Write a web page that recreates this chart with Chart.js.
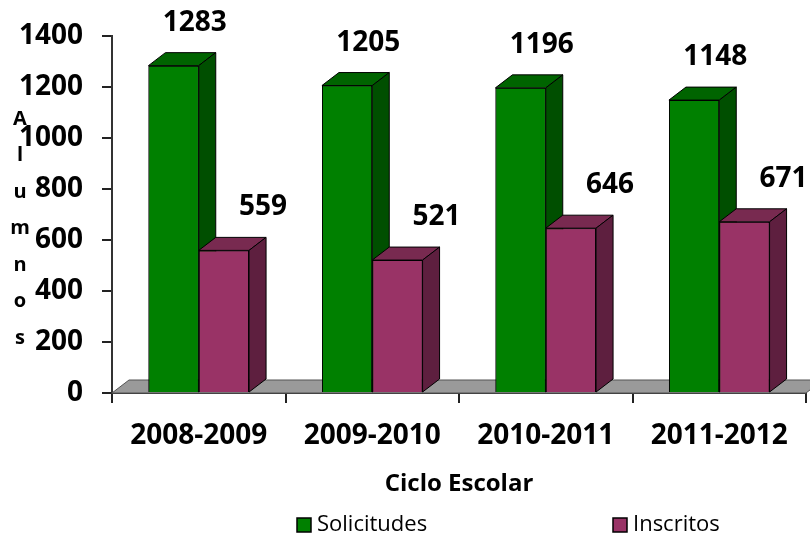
<!DOCTYPE html>
<html>
<head>
<meta charset="utf-8">
<script src="https://cdn.jsdelivr.net/npm/chart.js@4.4.0/dist/chart.umd.min.js"></script>
<style>
    html, body { margin: 0; padding: 0; background: #fff; }
    #wrap { width: 810px; height: 536px; }
</style>
</head>
<body>
<div id="wrap"><canvas id="alumnosChart"></canvas></div>
<script>
        const ciclos = ['2008-2009', '2009-2010', '2010-2011', '2011-2012'];
        const solicitudes = [1283, 1205, 1196, 1148];
        const inscritos = [559, 521, 646, 671];
        const yTicks = [0, 200, 400, 600, 800, 1000, 1200, 1400];
        const seriesNames = ['Solicitudes', 'Inscritos'];

        const front = ['#008000', '#993366'];
        const topFace = ['#006400', '#782a50'];
        const sideFace = ['#004f00', '#5e1f3f'];
        const DX = 17, DY = 13;

        Chart.defaults.font.family = "'Open Sans', sans-serif";
        Chart.defaults.color = '#000';

        // floor + 3d faces; bars are redrawn green first so the purple fronts cover the green sides
        const bars3d = {
            id: 'bars3d',
            beforeDatasetsDraw(chart) {
                const { ctx, chartArea: { left, right, bottom } } = chart;
                ctx.save();
                ctx.beginPath();
                ctx.moveTo(left, bottom);
                ctx.lineTo(left + DX, bottom - DY);
                ctx.lineTo(right + DX, bottom - DY);
                ctx.lineTo(right, bottom);
                ctx.closePath();
                ctx.fillStyle = '#9a9a9a';
                ctx.fill();
                ctx.strokeStyle = '#555';
                ctx.lineWidth = 1;
                ctx.stroke();
                ctx.restore();
            },
            afterDatasetsDraw(chart) {
                const ctx = chart.ctx;
                ctx.save();
                chart.data.datasets.forEach((ds, i) => {
                    chart.getDatasetMeta(i).data.forEach(bar => {
                        bar.draw(ctx);
                        const l = bar.x - bar.width / 2;
                        const r = bar.x + bar.width / 2;
                        const t = bar.y;
                        const b = bar.base;
                        ctx.strokeStyle = '#000';
                        ctx.lineWidth = 1;
                        ctx.beginPath();
                        ctx.moveTo(l, t);
                        ctx.lineTo(l + DX, t - DY);
                        ctx.lineTo(r + DX, t - DY);
                        ctx.lineTo(r, t);
                        ctx.closePath();
                        ctx.fillStyle = topFace[i];
                        ctx.fill();
                        ctx.stroke();
                        ctx.beginPath();
                        ctx.moveTo(r, t);
                        ctx.lineTo(r + DX, t - DY);
                        ctx.lineTo(r + DX, b - DY);
                        ctx.lineTo(r, b);
                        ctx.closePath();
                        ctx.fillStyle = sideFace[i];
                        ctx.fill();
                        ctx.stroke();
                    });
                });

                // value labels
                const shift = [-4, 14];
                ctx.font = 'bold 28px "Open Sans", sans-serif';
                ctx.fillStyle = '#000';
                ctx.textAlign = 'center';
                ctx.textBaseline = 'middle';
                chart.data.datasets.forEach((ds, i) => {
                    chart.getDatasetMeta(i).data.forEach((bar, j) => {
                        ctx.fillText(ds.data[j], bar.x + bar.width / 2 + shift[i], bar.y - 43);
                    });
                });
                ctx.restore();
            }
        };

        // stacked letters of the y title and the bottom legend
        const extras = {
            id: 'extras',
            afterDraw(chart) {
                const { ctx, chartArea } = chart;
                ctx.save();
                ctx.fillStyle = '#000';
                ctx.textAlign = 'center';
                ctx.textBaseline = 'middle';
                ctx.font = 'bold 20px "Open Sans", sans-serif';
                const letters = 'Alumnos'.split('');
                const step = 36.5;
                const mid = (chartArea.top + chartArea.bottom) / 2 + 14;
                letters.forEach((ch, k) => {
                    ctx.fillText(ch, 20, mid + (k - (letters.length - 1) / 2) * step);
                });

                ctx.font = '22px "Open Sans", sans-serif';
                ctx.textAlign = 'left';
                const startX = [297, 613];
                seriesNames.forEach((name, i) => {
                    ctx.fillStyle = front[i];
                    ctx.fillRect(startX[i], 518, 14, 14);
                    ctx.strokeStyle = '#000';
                    ctx.lineWidth = 1.5;
                    ctx.strokeRect(startX[i], 518, 14, 14);
                    ctx.fillStyle = '#000';
                    ctx.fillText(name, startX[i] + 20, 525);
                });
                ctx.restore();
            }
        };

        const alumnosCanvas = document.getElementById('alumnosChart').getContext('2d');

        const alumnosChart = new Chart(alumnosCanvas, {
            type: 'bar',
            plugins: [bars3d, extras],
            data: {
                labels: ciclos,
                datasets: [
                    {
                        label: seriesNames[0],
                        data: solicitudes,
                        backgroundColor: front[0],
                        borderColor: '#000',
                        borderWidth: 1
                    },
                    {
                        label: seriesNames[1],
                        data: inscritos,
                        backgroundColor: front[1],
                        borderColor: '#000',
                        borderWidth: 1
                    }
                ]
            },
            options: {
                responsive: true,
                maintainAspectRatio: false,
                animation: false,
                categoryPercentage: 0.58,
                barPercentage: 1.0,
                layout: {
                    padding: { top: 33, left: 0, right: 4, bottom: 0 }
                },
                plugins: {
                    legend: { display: false },
                    tooltip: { enabled: false }
                },
                scales: {
                    x: {
                        grid: {
                            drawOnChartArea: false,
                            drawTicks: true,
                            tickLength: 10,
                            color: '#222',
                            lineWidth: 2
                        },
                        border: { color: '#333', width: 2 },
                        ticks: {
                            padding: 16,
                            font: { size: 28, weight: 'bold' }
                        },
                        title: {
                            display: true,
                            text: 'Ciclo Escolar',
                            font: { size: 24, weight: 'bold' },
                            padding: { top: 0, bottom: 37 }
                        },
                        afterFit(scale) {
                            scale.height = 143;
                        }
                    },
                    y: {
                        min: 0,
                        max: 1400,
                        afterBuildTicks(scale) {
                            scale.ticks = yTicks.map(v => ({ value: v }));
                        },
                        grid: {
                            drawOnChartArea: false,
                            drawTicks: true,
                            tickLength: 10,
                            color: '#222',
                            lineWidth: 2
                        },
                        border: { color: '#333', width: 2 },
                        ticks: {
                            padding: 19,
                            font: { size: 28, weight: 'bold' },
                            callback: function(value) {
                                return String(value);
                            }
                        },
                        afterFit(scale) {
                            scale.width = 112;
                        }
                    }
                }
            }
        });
</script>
</body>
</html>
